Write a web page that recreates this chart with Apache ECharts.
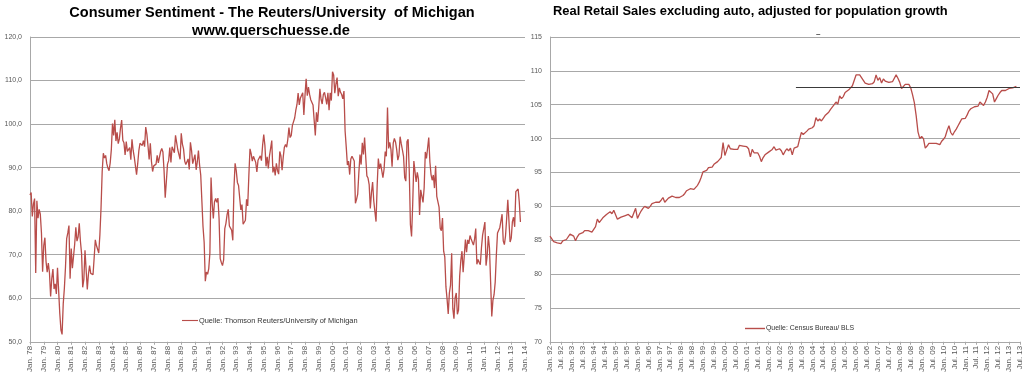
<!DOCTYPE html>
<html>
<head>
<meta charset="utf-8">
<script src="https://cdn.jsdelivr.net/npm/echarts@6.0.0/dist/echarts.min.js"></script>
<style>
  html, body { margin: 0; padding: 0; background: #fff; }
  #chart { width: 1024px; height: 375px; }
</style>
</head>
<body>
<div id="chart"></div>
<script>
// Monatsnamen für die Kategorien (nur Jan./Jul. werden beschriftet)
const months = ['Jan.', 'Feb.', 'Mrz.', 'Apr.', 'Mai', 'Jun.', 'Jul.', 'Aug.', 'Sep.', 'Okt.', 'Nov.', 'Dez.']

// linke Grafik: Jan. 78 bis Jan. 14
const sentimentYears = [1978, 2014]
// Consumer Sentiment, monatlich ab Jan. 1978
const sentiment = [
  83.7, 84.3, 78.8, 81.6, 82.9, 65.8, 82.4, 78.4, 80.4, 79.3, 75.0, 66.1,
  72.1, 73.9, 68.4, 66.0, 68.1, 65.8, 60.4, 64.5, 66.7, 62.1, 63.3, 61.0,
  67.0, 66.9, 56.5, 52.7, 51.7, 58.7, 62.3, 67.3, 73.7, 75.0, 76.7, 64.5,
  71.4, 66.9, 66.5, 72.4, 76.3, 73.1, 74.1, 77.2, 73.1, 70.3, 62.5, 64.3,
  71.0, 66.5, 62.0, 65.5, 67.5, 65.7, 65.4, 65.4, 69.3, 73.4, 72.1, 71.9,
  70.4, 74.6, 80.8, 89.1, 93.3, 92.2, 92.8, 90.9, 89.9, 89.3, 91.1, 94.2,
  100.1, 97.4, 101.0, 96.1, 98.1, 95.5, 96.6, 99.1, 100.9, 96.3, 95.7, 92.9,
  96.0, 93.7, 93.7, 94.6, 91.8, 96.5, 94.0, 92.4, 92.1, 88.4, 90.9, 93.9,
  95.6, 95.9, 95.1, 96.2, 94.8, 99.3, 97.7, 94.9, 91.9, 95.6, 91.4, 89.1,
  90.4, 90.2, 90.8, 92.8, 91.1, 91.5, 93.7, 94.4, 93.6, 89.3, 83.1, 86.8,
  90.8, 91.6, 94.6, 91.2, 94.8, 94.7, 93.4, 97.4, 97.3, 94.1, 93.0, 91.9,
  97.9, 95.4, 94.3, 91.5, 90.7, 90.6, 92.0, 89.6, 95.8, 93.9, 90.9, 90.5,
  93.0, 89.5, 91.3, 93.9, 90.6, 88.3, 88.2, 76.4, 72.8, 63.9, 66.0, 65.5,
  66.8, 70.4, 87.7, 81.8, 78.3, 82.1, 82.9, 82.0, 83.0, 78.3, 69.1, 68.2,
  67.5, 68.8, 76.0, 77.2, 79.2, 80.4, 76.6, 76.1, 75.6, 73.3, 85.3, 91.0,
  89.3, 86.6, 85.9, 85.6, 80.3, 81.5, 77.0, 77.3, 77.9, 82.7, 81.2, 88.2,
  94.3, 93.2, 91.5, 92.6, 92.8, 91.2, 89.0, 91.7, 91.5, 92.7, 91.6, 95.1,
  97.6, 95.1, 90.3, 92.5, 89.8, 92.7, 94.4, 96.2, 88.9, 90.2, 88.2, 91.0,
  89.3, 88.5, 93.7, 92.7, 89.4, 92.4, 94.7, 95.3, 94.7, 96.5, 99.2, 96.9,
  97.4, 99.7, 100.0, 101.4, 103.2, 104.5, 107.1, 104.4, 106.0, 105.6, 107.2, 102.1,
  106.6, 110.4, 106.5, 108.5, 106.8, 105.6, 105.2, 104.4, 100.9, 97.4, 102.7, 100.5,
  103.9, 108.1, 105.7, 104.6, 106.8, 107.3, 106.0, 104.5, 107.2, 103.2, 107.2, 105.4,
  112.0, 111.3, 107.1, 109.2, 110.7, 106.4, 108.3, 107.3, 106.8, 105.8, 107.6, 98.4,
  94.7, 90.6, 91.5, 88.4, 92.0, 92.6, 92.4, 91.5, 81.8, 82.7, 83.9, 88.8,
  93.0, 90.7, 95.7, 93.0, 96.9, 92.4, 88.1, 87.6, 86.1, 80.6, 84.2, 86.7,
  82.4, 79.9, 77.6, 86.0, 92.1, 89.7, 90.9, 89.3, 87.7, 89.6, 93.7, 92.6,
  103.8, 94.4, 95.8, 94.2, 90.2, 95.6, 96.7, 95.9, 94.2, 91.7, 92.8, 97.1,
  95.5, 94.1, 92.6, 87.7, 86.9, 96.0, 96.5, 89.1, 76.9, 74.2, 81.6, 91.5,
  91.2, 86.7, 88.9, 87.4, 79.1, 84.9, 84.7, 82.0, 85.4, 93.6, 92.1, 91.7,
  96.9, 91.3, 88.4, 87.1, 88.3, 85.3, 90.4, 83.4, 83.4, 80.9, 76.1, 75.5,
  78.4, 70.8, 69.5, 62.6, 59.8, 56.4, 61.2, 63.0, 70.3, 57.6, 55.3, 60.1,
  61.2, 56.3, 57.3, 65.1, 68.7, 70.8, 66.0, 65.7, 73.5, 70.6, 73.4, 72.5,
  74.4, 73.6, 73.6, 72.2, 73.6, 76.0, 67.8, 68.9, 68.2, 67.7, 71.6, 74.5,
  74.2, 77.5, 67.5, 69.8, 74.3, 71.5, 63.7, 55.8, 59.5, 60.8, 63.7, 69.9,
  75.0, 75.3, 76.2, 76.4, 79.3, 73.2, 72.3, 74.3, 78.3, 82.6, 82.7, 72.9,
  73.8, 77.6, 78.6, 76.4, 84.5, 84.1, 85.1, 82.1, 77.5
]

// rechte Grafik: Jan. 92 bis Jul. 13
const retailYears = [1992, 2013]
const retailLastMonth = 6 // Jul.
// Real Retail Sales ex auto, monatlich ab Jan. 1992
const retail = [
  85.6, 85.2, 84.8, 84.7, 84.6, 84.4, 84.5, 84.9, 84.9, 85.1, 85.3, 85.9,
  86.0, 85.6, 84.9, 85.5, 85.9, 85.7, 86.1, 86.4, 86.2, 86.4, 86.3, 86.2,
  86.0, 87.0, 88.1, 87.6, 87.5, 88.3, 88.4, 88.8, 89.0, 89.2, 88.9, 89.4,
  89.5, 88.1, 88.2, 88.4, 88.3, 88.6, 88.7, 88.8, 89.0, 88.3, 88.4, 89.7,
  88.2, 88.8, 89.3, 89.7, 90.0, 89.8, 89.7, 90.0, 90.4, 90.5, 90.6, 90.5,
  90.6, 90.9, 91.3, 90.6, 90.8, 91.2, 91.4, 91.5, 91.4, 91.3, 91.4, 91.3,
  91.4, 91.6, 91.9, 92.3, 92.4, 92.6, 92.7, 92.5, 92.6, 93.1, 93.6, 94.3,
  95.1, 95.0, 95.3, 95.7, 95.8, 95.8, 96.2, 96.3, 96.6, 96.9, 97.2, 99.4,
  97.5, 98.3, 99.1, 98.5, 98.5, 98.4, 98.4, 98.4, 99.0, 98.9, 98.9, 99.0,
  98.8, 98.5, 97.3, 98.4, 97.9, 97.8, 97.9, 97.4, 96.6, 97.2, 97.6, 97.8,
  98.0, 98.1, 98.4, 98.8, 98.3, 98.4, 98.5, 98.2, 97.6, 98.1, 98.5, 98.2,
  98.6, 97.6, 98.6, 98.5, 98.8, 99.9, 100.9, 100.6, 100.8, 101.1, 101.4, 101.3,
  101.6, 101.9, 103.1, 102.6, 102.9, 102.6, 103.0, 103.4, 103.5, 103.9, 104.3, 104.5,
  105.0, 105.4, 105.1, 106.3, 105.9, 106.2, 106.8, 106.6, 107.2, 107.3, 107.8, 107.6,
  109.4, 109.3, 109.4, 109.0, 108.6, 108.2, 108.1, 108.0, 108.0, 108.1, 108.4, 109.4,
  108.6, 109.0, 108.2, 108.8, 108.5, 108.3, 108.3, 108.3, 108.4, 108.6, 109.4, 108.9,
  108.3, 107.4, 107.3, 108.0, 108.2, 108.0, 107.5, 106.5, 105.3, 103.4, 101.0, 100.0,
  100.3, 100.0, 98.6, 98.9, 99.3, 99.4, 99.3, 99.4, 99.3, 99.2, 99.1, 99.6,
  99.9, 100.3, 101.2, 101.9, 100.9, 100.5, 101.0, 101.4, 101.9, 102.4, 102.9, 103.0,
  103.0, 103.5, 104.1, 104.4, 104.6, 104.7, 104.8, 104.8, 105.4, 105.2, 104.9, 105.4,
  106.1, 107.1, 106.9, 106.6, 105.4, 105.9, 106.4, 106.8, 107.1, 107.1, 107.1, 107.2,
  107.4, 107.4, 107.5, 107.6, 107.7
]

// waagrechte Linie im rechten Chart
const refLevel = 107.6
const refStart = 'Apr. 03'

const sentimentTicks = [50, 120, 10]
const retailTicks = [70, 115, 5]

const titleLeft = 'Consumer Sentiment - The Reuters/University  of Michigan'
const subLeft = 'www.querschuesse.de'
const titleRight = 'Real Retail Sales excluding auto, adjusted for population growth'
const sourceLeft = 'Quelle: Thomson Reuters/University of Michigan'
const sourceRight = 'Quelle: Census Bureau/ BLS'

// Kategorien bauen
const monthCats = (y0, y1, lastMonth) => {
  const out = []
  for (let y = y0; y <= y1; y++) {
    for (let m = 0; m < 12; m++) {
      if (y === y1 && m > lastMonth) break
      out.push(months[m] + ' ' + String(y % 100).padStart(2, '0'))
    }
  }
  return out
}
const sentimentCats = monthCats(sentimentYears[0], sentimentYears[1], 0)
const retailCats = monthCats(retailYears[0], retailYears[1], retailLastMonth)

const red = '#b84d4a'
const gridGray = '#a8a8a8'
const font = 'Liberation Sans, Arial, sans-serif'

const catAxis = (gridIndex, cats, every) => ({
  type: 'category',
  gridIndex,
  data: cats,
  boundaryGap: false,
  axisLine: { lineStyle: { color: gridGray } },
  axisTick: { show: true, interval: every - 1, length: 3, lineStyle: { color: gridGray } },
  axisLabel: {
    interval: every - 1, rotate: 90, fontSize: 8, color: '#595959',
    fontFamily: font, margin: 4
  },
  splitLine: { show: false }
})

const valAxis = (gridIndex, ticks, fmt) => ({
  type: 'value',
  gridIndex,
  min: ticks[0], max: ticks[1], interval: ticks[2],
  axisLine: { show: true, lineStyle: { color: gridGray } },
  axisTick: { show: false },
  axisLabel: { fontSize: 7, color: '#595959', fontFamily: font, margin: 8, formatter: fmt },
  splitLine: { lineStyle: { color: gridGray, width: 1 } }
})

// Legende: nur ein Strich, kein Punkt
const legendLine = 'path://M0,0 L20,0 L20,1.4 L0,1.4 Z'

const chart = echarts.init(document.getElementById('chart'), null, { renderer: 'canvas' })

chart.setOption({
  backgroundColor: '#fff',
  animation: false,
  title: [
    { text: titleLeft, left: 267, top: 0, textAlign: 'center',
      textStyle: { fontSize: 14.5, fontWeight: 'bold', color: '#000', fontFamily: font } },
    { text: subLeft, left: 266, top: 18, textAlign: 'center',
      textStyle: { fontSize: 14.7, fontWeight: 'bold', color: '#000', fontFamily: font } },
    { text: titleRight, left: 548, top: 0,
      textStyle: { fontSize: 12.9, fontWeight: 'bold', color: '#000', fontFamily: font } },
    { text: '–', left: 811, top: 25,
      textStyle: { fontSize: 8, color: '#333', fontFamily: font } }
  ],
  legend: [
    { data: [sourceLeft], left: 177, top: 312, icon: legendLine, itemWidth: 16, itemHeight: 1.4,
      textStyle: { fontSize: 7.4, color: '#333', fontFamily: font, padding: [0, 0, 0, -4] } },
    { data: [sourceRight], left: 740, top: 320, icon: legendLine, itemWidth: 20, itemHeight: 1.4,
      textStyle: { fontSize: 6.9, color: '#333', fontFamily: font, padding: [0, 0, 0, -4] } }
  ],
  grid: [
    { left: 30, top: 37, right: 499, bottom: 33 },
    { left: 550, top: 37, right: 1, bottom: 31 }
  ],
  xAxis: [
    catAxis(0, sentimentCats, 12),
    catAxis(1, retailCats, 6)
  ],
  yAxis: [
    valAxis(0, sentimentTicks, v => v.toFixed(1).replace('.', ',')),
    valAxis(1, retailTicks, v => String(v))
  ],
  series: [
    {
      name: sourceLeft, type: 'line', xAxisIndex: 0, yAxisIndex: 0,
      data: sentiment, symbol: 'none',
      lineStyle: { color: red, width: 1.3 }, itemStyle: { color: red }
    },
    {
      name: sourceRight, type: 'line', xAxisIndex: 1, yAxisIndex: 1,
      data: retail, symbol: 'none',
      lineStyle: { color: red, width: 1.3 }, itemStyle: { color: red },
      markLine: {
        silent: true, symbol: 'none', label: { show: false },
        lineStyle: { color: '#3a3a3a', width: 1, type: 'solid' },
        data: [[
          { coord: [refStart, refLevel] },
          { coord: [retailCats[retailCats.length - 1], refLevel] }
        ]]
      }
    }
  ]
})
</script>
</body>
</html>
